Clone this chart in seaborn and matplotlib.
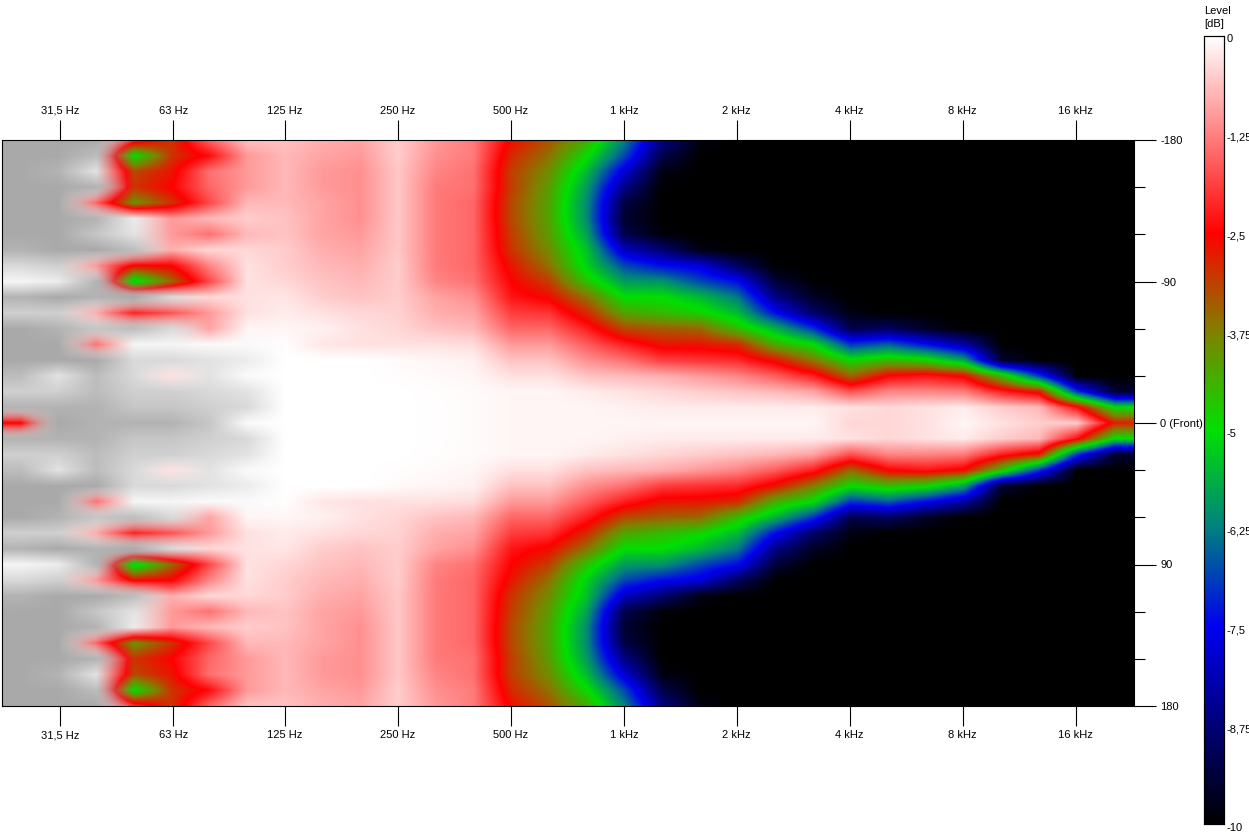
import matplotlib
matplotlib.use('Agg')
import matplotlib.pyplot as plt
from matplotlib.colors import LinearSegmentedColormap, Normalize
from matplotlib.transforms import ScaledTranslation
import seaborn as sns
import pandas as pd
import numpy as np

# 1/3 octave columns, 25 Hz .. 20 kHz
freqs = [25, 31.5, 40, 50, 63, 80, 100, 125, 160, 200, 250, 315, 400, 500, 630,
         800, 1000, 1250, 1600, 2000, 2500, 3150, 4000, 5000, 6300, 8000, 10000, 12500, 16000, 20000]

# level in dB per angle (values above 0 show up grey)
level_180 = [.9, .9, .9, -2.0, -3.0, -1.5, -.6, -.6, -.8, -.9, -.5, -1.0, -1.3, -2.6, -3.3, -4.3, -6.2, -8.6, -9.8, -10, -10, -10, -10, -10, -10, -10, -10, -10, -10, -10]
level_170 = [.9, .9, .7, -5.0, -3.0, -2.4, -1.0, -.7, -.9, -1.0, -.5, -1.1, -1.3, -2.9, -3.6, -4.9, -6.8, -9.2, -10, -10, -10, -10, -10, -10, -10, -10, -10, -10, -10, -10]
level_160 = [.9, .8, .3, -3.2, -2.7, -1.4, -1.0, -.7, -1.0, -1.1, -.55, -1.2, -1.4, -3.1, -3.9, -5.5, -7.8, -9.8, -10, -10, -10, -10, -10, -10, -10, -10, -10, -10, -10, -10]
level_150 = [.9, .9, .8, -3.0, -2.5, -1.5, -1.0, -.7, -1.0, -1.1, -.55, -1.3, -1.4, -3.1, -4.1, -5.9, -8.6, -10, -10, -10, -10, -10, -10, -10, -10, -10, -10, -10, -10, -10]
level_140 = [.9, .9, -1.5, -4.0, -3.0, -1.8, -.7, -.7, -.9, -1.1, -.55, -1.3, -1.5, -3.2, -4.2, -6.1, -9.3, -10, -10, -10, -10, -10, -10, -10, -10, -10, -10, -10, -10, -10]
level_130 = [.9, .9, .8, .2, -1.0, -.7, -.5, -.6, -.9, -1.1, -.55, -1.3, -1.5, -3.2, -4.2, -6.1, -9.5, -10, -10, -10, -10, -10, -10, -10, -10, -10, -10, -10, -10, -10]
level_120 = [.9, .9, .6, .3, -1.0, -1.4, -.7, -.6, -.9, -1.0, -.55, -1.3, -1.5, -3.1, -4.1, -5.8, -9.2, -9.9, -10, -10, -10, -10, -10, -10, -10, -10, -10, -10, -10, -10]
level_110 = [.8, .9, .9, .7, -.8, -.4, -.4, -.5, -.8, -.9, -.55, -1.3, -1.5, -3.0, -3.9, -5.4, -8.0, -8.8, -9.8, -10, -10, -10, -10, -10, -10, -10, -10, -10, -10, -10]
level_100 = [.4, .5, -1.0, -2.6, -2.5, -1.2, -.3, -.5, -.7, -.8, -.5, -1.3, -1.5, -2.7, -3.6, -5.2, -6.8, -7.4, -7.7, -9.0, -10, -10, -10, -10, -10, -10, -10, -10, -10, -10]
level_90 = [.1, .2, .8, -5.3, -3.5, -1.8, -.3, -.4, -.6, -.7, -.5, -1.2, -1.4, -2.5, -3.1, -4.6, -5.9, -6.0, -6.8, -7.4, -9.4, -10, -10, -10, -10, -10, -10, -10, -10, -10]
level_80 = [.8, .9, .8, .9, .4, -.4, -.3, -.25, -.5, -.6, -.5, -.9, -1.1, -2.3, -2.6, -3.6, -5.0, -5.0, -5.5, -6.3, -8.6, -9.6, -10, -10, -10, -10, -10, -10, -10, -10]
level_70 = [.5, .5, -.8, -2.2, -1.7, -1.0, -.3, -.2, -.3, -.4, -.45, -.8, -.9, -1.9, -2.0, -2.9, -4.2, -4.5, -4.8, -5.5, -7.4, -8.9, -9.8, -10, -10, -10, -10, -10, -10, -10]
level_60 = [.9, .8, .6, .7, .4, -.9, -.1, -.1, -.15, -.3, -.4, -.6, -.7, -1.5, -1.5, -2.2, -3.2, -3.4, -3.5, -4.5, -5.6, -7.0, -9.2, -9.0, -9.6, -10, -10, -10, -10, -10]
level_50 = [.9, .9, -1.4, .1, .1, .05, .05, -.02, -.25, -.3, -.3, -.3, -.35, -1.0, -1.0, -1.6, -2.2, -2.7, -2.7, -2.9, -4.3, -5.0, -7.0, -6.6, -7.4, -8.3, -10, -10, -10, -10]
level_40 = [.9, .9, .9, .4, .4, .3, .2, 0, 0, 0, -.05, -.1, -.15, -.6, -.6, -1.1, -1.4, -1.9, -2.0, -2.1, -2.7, -3.7, -4.9, -4.5, -4.8, -5.8, -9.5, -10, -10, -10]
level_30 = [.7, .3, .7, .4, -.3, .3, .05, 0, 0, 0, -.03, -.05, -.1, -.3, -.3, -.6, -.7, -.8, -1.0, -1.2, -1.6, -2.2, -3.5, -2.5, -2.3, -2.6, -4.5, -7.0, -10, -10]
level_20 = [.5, .5, .7, .5, .5, .4, .3, 0, 0, 0, 0, -.03, -.05, -.1, -.1, -.2, -.3, -.4, -.5, -.6, -.7, -.9, -1.7, -1.2, -1.2, -1.3, -2.2, -2.8, -7.0, -9.5]
level_10 = [.8, .8, .8, .6, .6, .5, .4, 0, 0, 0, 0, -.02, -.05, -.1, -.1, -.1, -.15, -.2, -.2, -.2, -.2, -.2, -.3, -.4, -.3, -.2, -.5, -.7, -2.4, -5.0]
level_0 = [-2.5, .9, .8, .8, .8, .6, .05, 0, 0, 0, 0, -.02, -.05, -.1, -.1, -.1, -.1, -.1, -.1, -.1, -.1, -.1, -.4, -.4, -.3, -.1, -.3, -.5, -.5, -2.8]

# back half of the polar sweep, the other side mirrors it
back_rows = [level_180, level_170, level_160, level_150, level_140, level_130, level_120,
             level_110, level_100, level_90, level_80, level_70, level_60, level_50,
             level_40, level_30, level_20, level_10, level_0]
angles = list(range(-180, 190, 10))

freq_ticks = [31.5, 63, 125, 250, 500, 1000, 2000, 4000, 8000, 16000]
freq_labels = ['31,5 Hz', '63 Hz', '125 Hz', '250 Hz', '500 Hz', '1 kHz', '2 kHz', '4 kHz', '8 kHz', '16 kHz']
angle_ticks = [-180, -150, -120, -90, -60, -30, 0, 30, 60, 90, 120, 150, 180]
angle_labels = {-180: '-180', -90: '-90', 0: '0 (Front)', 90: '90', 180: '180'}
bar_ticks = [0, -1.25, -2.5, -3.75, -5, -6.25, -7.5, -8.75, -10]
bar_labels = ['0', '-1,25', '-2,5', '-3,75', '-5', '-6,25', '-7,5', '-8,75', '-10']

rows = back_rows + back_rows[-2::-1]
df = pd.DataFrame(rows, index=angles, columns=freqs)

plt.rcParams['font.family'] = ['Liberation Sans', 'DejaVu Sans']
plt.rcParams['font.size'] = 8

vmin, vmax = -10, 0
stops = [(-10, '#000000'), (-7.5, '#0000f0'), (-6.25, '#008080'), (-5, '#00e000'), (-3.75, '#808000'),
         (-2.5, '#ff0000'), (-1.25, '#ff8080'), (0, '#ffffff')]
cmap = LinearSegmentedColormap.from_list(
    'level', [((v - vmin) / (vmax - vmin), c) for v, c in stops], N=1024)
# over range: grey that fades in on top of the levels, so it blends straight into red
over_cmap = LinearSegmentedColormap.from_list('over', [(0.63, 0.63, 0.63, 0), (0.63, 0.63, 0.63, 1)])

W, H = 1249, 834
fig = plt.figure(figsize=(W / 100, H / 100), dpi=100)
ax = fig.add_axes([2 / W, 1 - 706 / H, 1132 / W, 566 / H])
cax = fig.add_axes([1204 / W, 1 - 824 / H, 20 / W, 788 / H])

sns.heatmap(df, ax=ax, cmap=cmap, vmin=vmin, vmax=vmax, cbar_ax=cax, xticklabels=False, yticklabels=False)
# heatmap cells are blocky, the original blends them
ax.collections[0].set_visible(False)
extent = (0, len(freqs), len(angles), 0)
ax.imshow(df.clip(upper=0).values, cmap=cmap, norm=Normalize(vmin, vmax), aspect='auto',
          interpolation='bilinear', interpolation_stage='data', extent=extent)
ax.imshow(df.clip(lower=0).values, cmap=over_cmap, norm=Normalize(0, 1), aspect='auto',
          interpolation='bilinear', interpolation_stage='data', extent=extent)
ax.set_xlim(0, len(freqs))
ax.set_ylim(len(angles) - 0.5, 0.5)
ax.set_xlabel('')
ax.set_ylabel('')

f_lo, f_hi = 22.0, 22900.0
tick_x = [len(freqs) * np.log2(f / f_lo) / np.log2(f_hi / f_lo) for f in freq_ticks]
ax.set_xticks(tick_x)
ax.set_xticklabels(freq_labels)
ax.tick_params(axis='x', top=True, bottom=True, labeltop=True, labelbottom=True,
               length=14.5, width=0.8, pad=3, labelsize=8)

major_y = [angles.index(a) + 0.5 for a in angle_labels]
minor_y = [angles.index(a) + 0.5 for a in angle_ticks if a not in angle_labels]
ax.yaxis.tick_right()
ax.set_yticks(major_y)
ax.set_yticklabels(list(angle_labels.values()), rotation=0)
ax.set_yticks(minor_y, minor=True)
ax.tick_params(axis='y', which='major', length=16, width=0.8, pad=3, labelsize=8)
ax.tick_params(axis='y', which='minor', length=8, width=0.8)
for s in ax.spines.values():
    s.set_visible(True)
    s.set_linewidth(0.8)

cax.set_ylim(-10, 0)
cax.set_yticks(bar_ticks)
cax.set_yticklabels(bar_labels)
cax.tick_params(axis='y', length=0, pad=2, labelsize=8)
# labels in the original sit a little under their level
shift = ScaledTranslation(0, -2.5 / 100, fig.dpi_scale_trans)
for lbl in cax.get_yticklabels():
    lbl.set_transform(lbl.get_transform() + shift)
for s in cax.spines.values():
    s.set_visible(True)
    s.set_linewidth(0.8)
fig.text(1204 / W, 1 - 17.5 / H, 'Level\n[dB]', fontsize=8, ha='left', va='center', linespacing=1.35)

fig.savefig('out.png', dpi=100)
plt.close(fig)
